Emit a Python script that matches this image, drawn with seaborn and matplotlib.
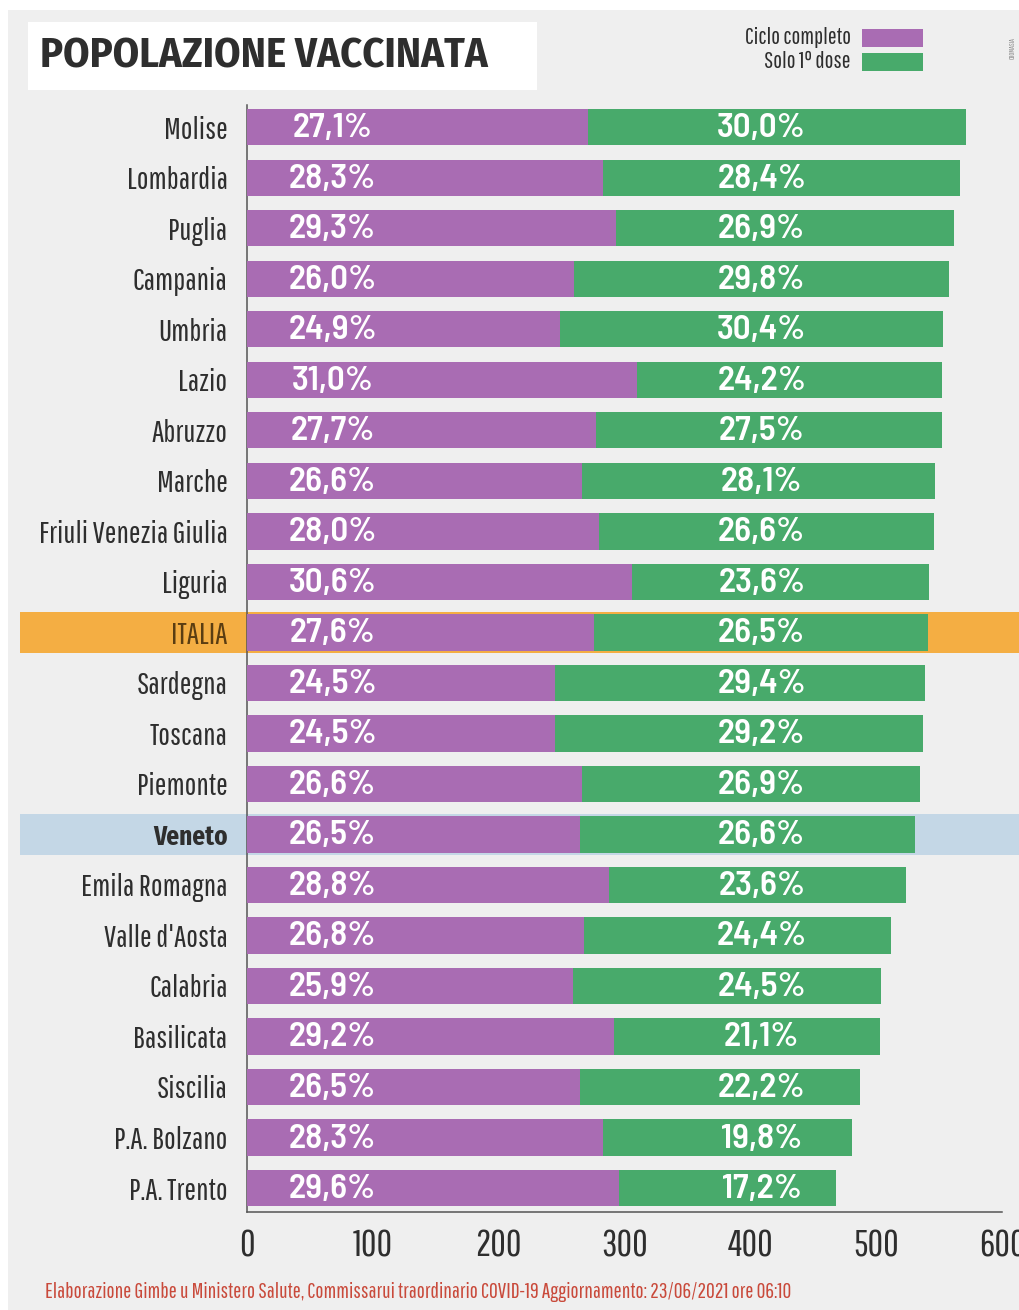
import numpy as np
import pandas as pd
import matplotlib
matplotlib.use('Agg')
import matplotlib.pyplot as plt
import seaborn as sns
from matplotlib.patches import Rectangle
from matplotlib.transforms import blended_transform_factory

regions = ["Molise", "Lombardia", "Puglia", "Campania", "Umbria", "Lazio",
           "Abruzzo", "Marche", "Friuli Venezia Giulia", "Liguria", "ITALIA",
           "Sardegna", "Toscana", "Piemonte", "Veneto", "Emila Romagna",
           "Valle d'Aosta", "Calabria", "Basilicata", "Siscilia",
           "P.A. Bolzano", "P.A. Trento"]
ciclo_completo = [27.1, 28.3, 29.3, 26.0, 24.9, 31.0, 27.7, 26.6, 28.0, 30.6, 27.6,
                  24.5, 24.5, 26.6, 26.5, 28.8, 26.8, 25.9, 29.2, 26.5, 28.3, 29.6]
solo_prima_dose = [30.0, 28.4, 26.9, 29.8, 30.4, 24.2, 27.5, 28.1, 26.6, 23.6, 26.5,
                   29.4, 29.2, 26.9, 26.6, 23.6, 24.4, 24.5, 21.1, 22.2, 19.8, 17.2]
x_ticks = [0, 100, 200, 300, 400, 500, 600]

PURPLE = '#a96cb3'
GREEN = '#48aa6b'
ORANGE = '#f4ae43'
BLUE = '#c4d7e6'
BG = '#efefef'
DARK = '#2e2e2e'

NARROW = ['Pathway Gothic One', 'Fira Sans Extra Condensed', 'DejaVu Sans']
NARROW_BOLD = ['Fira Sans Extra Condensed', 'DejaVu Sans']
SEMI = ['Barlow Semi Condensed', 'Roboto Condensed', 'DejaVu Sans']
TITLE = ['Fira Sans Condensed', 'Roboto Condensed', 'DejaVu Sans']

sns.set_theme(style='white')
plt.rcParams['font.family'] = NARROW

W, H = 1019, 1310
fx = lambda px: px / W
fy = lambda py: 1 - py / H

df = pd.DataFrame({'regione': regions,
                   'ciclo': np.array(ciclo_completo) * 10,
                   'dose1': np.array(solo_prima_dose) * 10})
df['totale'] = df['ciclo'] + df['dose1']

fig = plt.figure(figsize=(W / 100, H / 100), dpi=100, facecolor='white')
fig.patches.append(Rectangle((fx(8), 0), 1 - fx(8), fy(10), transform=fig.transFigure,
                             facecolor=BG, edgecolor='none', zorder=-10))
fig.patches.append(Rectangle((fx(28), fy(90)), fx(537) - fx(28), fy(22) - fy(90),
                             transform=fig.transFigure, facecolor='white',
                             edgecolor='none', zorder=-5))

ax = fig.add_axes([fx(247), fy(1212), fx(1002) - fx(247), fy(105) - fy(1212)])
ax.set_facecolor('none')

sns.barplot(data=df, x='totale', y='regione', color=GREEN, width=0.72,
            saturation=1, linewidth=0, ax=ax, zorder=3)
sns.barplot(data=df, x='ciclo', y='regione', color=PURPLE, width=0.72,
            saturation=1, linewidth=0, ax=ax, zorder=4)

ax.set_xlim(0, 600)
ax.set_ylim(len(regions) - 0.525, -0.44)

trans = blended_transform_factory(fig.transFigure, ax.transData)
for name, col in [('ITALIA', ORANGE), ('Veneto', BLUE)]:
    i = regions.index(name)
    fig.patches.append(Rectangle((fx(20), i - 0.4), 1 - fx(20), 0.8, transform=trans,
                                 facecolor=col, edgecolor='none', zorder=-4))

value_texts = []
for i in range(len(regions)):
    for xpos, v in [(68, ciclo_completo[i]), (409, solo_prima_dose[i])]:
        t = ax.text(xpos, i + 0.03, f"{v:.1f}%".replace('.', ','), ha='center',
                    va='center', color='white', fontsize=22, fontweight='semibold',
                    family=SEMI, zorder=6)
        value_texts.append(t)

ax.set_xticks(x_ticks)
ax.set_xticklabels([str(t) for t in x_ticks], color=DARK)
ax.tick_params(axis='x', direction='in', length=27, width=1, color='#777777', pad=12)
ax.tick_params(axis='y', length=0, pad=14)
for lab in ax.get_yticklabels():
    lab.set_color(DARK)
    if lab.get_text() == 'ITALIA':
        lab.set_color('#5a3d12')
ax.set_xlabel('')
ax.set_ylabel('')
for s in ['top', 'right']:
    ax.spines[s].set_visible(False)
for s in ['left', 'bottom']:
    ax.spines[s].set_color('#555555')
    ax.spines[s].set_linewidth(1.1)

title = fig.text(fx(40), fy(56), 'POPOLAZIONE VACCINATA', fontsize=30, fontweight='bold',
                 color=DARK, ha='left', va='center', family=TITLE)

legend_texts = []
for py, label, col in [(38, 'Ciclo completo', PURPLE), (62, 'Solo 1° dose', GREEN)]:
    legend_texts.append(fig.text(fx(851), fy(py), label, fontsize=16, color=DARK,
                                 ha='right', va='center'))
    fig.patches.append(Rectangle((fx(862), fy(py + 9)), fx(923) - fx(862),
                                 fy(py - 9) - fy(py + 9), transform=fig.transFigure,
                                 facecolor=col, edgecolor='none', zorder=2))

fig.text(fx(1013), fy(48), 'CROMASIA', fontsize=5, color='#888888', rotation=90,
         ha='center', va='center')

note = fig.text(fx(45), fy(1292),
                'Elaborazione Gimbe u Ministero Salute, Commissarui traordinario COVID-19 '
                'Aggiornamento: 23/06/2021 ore 06:10',
                fontsize=14, color='#c94a3b', ha='left', va='center')


# size the texts to the widths measured on the reference
def fit(texts, sample, target_px):
    r = fig.canvas.get_renderer()
    w = sample.get_window_extent(r).width
    for t in texts:
        t.set_fontsize(t.get_fontsize() * target_px / w)


fig.canvas.draw()
ylabs = ax.get_yticklabels()
for lab in ylabs:
    lab.set_fontsize(20)
fig.canvas.draw()
fit(ylabs, ylabs[regions.index('Friuli Venezia Giulia')], 187)
xlabs = ax.get_xticklabels()
for lab in xlabs:
    lab.set_fontsize(22)
fig.canvas.draw()
fit(xlabs, xlabs[1], 40)
fit(value_texts, value_texts[0], 80)
fit([title], title, 447)
fit(legend_texts, legend_texts[0], 107)
fit([note], note, 753)

# Veneto is set in bold, same width as on the reference
veneto = ylabs[regions.index('Veneto')]
veneto.set_family(NARROW_BOLD)
veneto.set_fontweight('bold')
fig.canvas.draw()
fit([veneto], veneto, 74)

fig.savefig('out.png', dpi=100, facecolor=fig.get_facecolor())
